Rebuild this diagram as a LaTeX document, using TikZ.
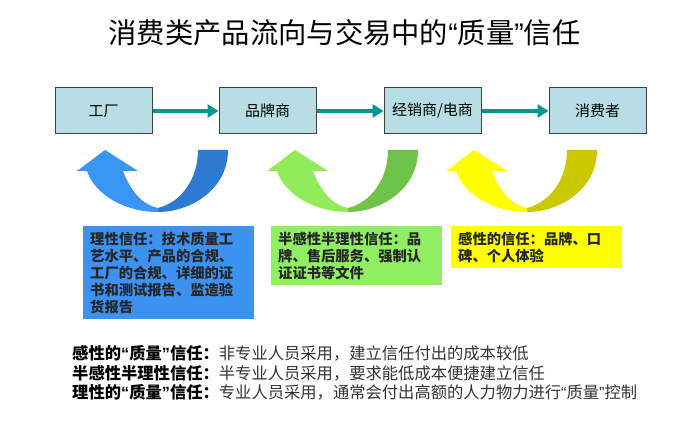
\documentclass[tikz,border=0pt]{standalone}
\usepackage{fontspec}
\setmainfont{Noto Sans CJK SC}
\newfontfamily\quotefont{Liberation Sans}
\newcommand\lqm{{\quotefont “}}
\newcommand\rqm{{\quotefont ”}}
\usetikzlibrary{arrows.meta, positioning}

\definecolor{stagefill}{RGB}{183,222,228}
\definecolor{flowteal}{RGB}{0,150,143}
\definecolor{blueL}{RGB}{58,150,245}
\definecolor{blueD}{RGB}{45,122,210}
\definecolor{greenL}{RGB}{146,236,90}
\definecolor{greenD}{RGB}{110,196,72}
\definecolor{yellowL}{RGB}{255,255,0}
\definecolor{yellowD}{RGB}{204,200,0}
\definecolor{bluebox}{RGB}{59,146,240}
\definecolor{greenbox}{RGB}{144,238,98}

\begin{document}
\begin{tikzpicture}[
    x=1pt, y=-1pt, % one unit = one pixel, y downwards
    >={Triangle[length=11pt, width=13pt]}, % Arrow tip for the flow
    stage/.style={draw=black!75, line width=1pt, fill=stagefill, minimum width=97pt, minimum height=46pt, font=\fontsize{15}{18}\selectfont}, % Chain boxes
    flow/.style={flowteal, line width=3.5pt, ->}, % Connectors of the chain
    trustbox/.style={anchor=north west, text width=157pt, inner xsep=7pt, inner ysep=5.5pt, align=left, font=\fontsize{14.3}{17}\selectfont\bfseries, text=black!85}, % Coloured notes
    legendline/.style={anchor=west, inner sep=0pt, font=\fontsize{16.3}{19}\selectfont, text=black!80}, % Lines at the bottom
    pics/trustarrow/.style 2 args={code={
        % light half with the head
        \fill[#1] (88,72) .. controls (55,72) and (25,55) .. (17,31) -- (7,31) -- (35,10) -- (68,31) -- (53,31)
            .. controls (60,50) and (72,65) .. (88,68) -- cycle;
        % dark half, the tail
        \fill[#2] (128,10) -- (158,10) .. controls (158,50) and (120,72) .. (88,72) -- (88,68)
            .. controls (112,62) and (128,38) .. (128,10) -- cycle;
    }}
]

    \useasboundingbox (0,0) rectangle (680,422);

    % Title
    \node[font=\fontsize{28.3}{34}\selectfont] (title) at (344.5,33) {消费类产品流向与交易中的\lqm 质量\rqm 信任};

    % Chain of stages
    \node[stage] (factory) at (103.5,111) {工厂};
    \node[stage, right=66pt of factory] (brand) {品牌商};
    \node[stage, right=67pt of brand] (dealer) {经销商/电商};
    \node[stage, right=67pt of dealer] (consumer) {消费者};

    \draw[flow] (factory) -- (brand);
    \draw[flow] (brand) -- (dealer);
    \draw[flow] (dealer) -- (consumer);

    % Curved arrows
    \pic at (70,140) {trustarrow={blueL}{blueD}};
    \pic at (260,140) {trustarrow={greenL}{greenD}};
    \pic at (439,140) {trustarrow={yellowL}{yellowD}};

    % Notes under the arrows
    \node[trustbox, fill=bluebox] (rational) at (83,226)
        {理性信任：技术质量工\\艺水平、产品的合规、\\工厂的合规、详细的证\\书和测试报告、监造验\\货报告};
    \node[trustbox, fill=greenbox] (half) at (271,226)
        {半感性半理性信任：品\\牌、售后服务、强制认\\证证书等文件};
    \node[trustbox, fill=yellowL] (sensual) at (451,226)
        {感性的信任：品牌、口\\碑、个人体验};

    % Legend
    \node[legendline] (leg1) at (72,353) {{\bfseries\color{black}感性的\lqm 质量\rqm 信任：}非专业人员采用，建立信任付出的成本较低};
    \node[legendline] (leg2) at (72,373) {{\bfseries\color{black}半感性半理性信任：}半专业人员采用，要求能低成本便捷建立信任};
    \node[legendline] (leg3) at (72,392) {{\bfseries\color{black}理性的\lqm 质量\rqm 信任：}专业人员采用，通常会付出高额的人力物力进行\lqm 质量\rqm 控制};

\end{tikzpicture}
\end{document}
